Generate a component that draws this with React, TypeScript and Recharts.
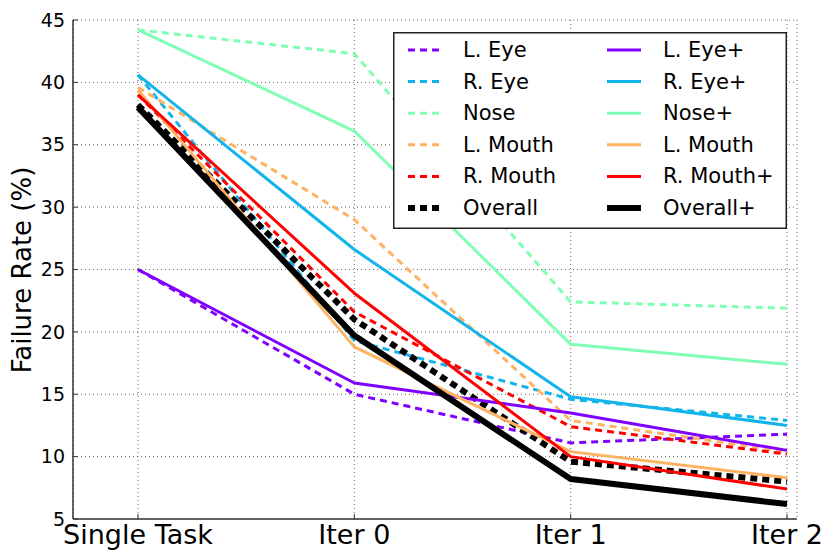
import React from "react";
import { CartesianGrid, Legend, Line, LineChart, XAxis, YAxis } from "recharts";

const categories = ["Single Task", "Iter 0", "Iter 1", "Iter 2"];
const yTicks = [5, 10, 15, 20, 25, 30, 35, 40, 45];

// baseline (dashed) series
const lEye = [25.0, 15.0, 11.1, 11.8];
const rEye = [40.6, 19.3, 14.6, 12.9];
const nose = [44.2, 42.3, 22.4, 21.9];
const lMouth = [39.6, 29.0, 12.9, 10.4];
const rMouth = [39.0, 21.6, 12.4, 10.2];
const overall = [38.2, 21.0, 9.6, 8.0];

// "+" (solid) series
const lEyePlus = [25.0, 15.9, 13.5, 10.5];
const rEyePlus = [40.6, 26.6, 14.8, 12.5];
const nosePlus = [44.2, 36.1, 19.0, 17.4];
const lMouthPlus = [39.4, 18.8, 10.4, 8.3];
const rMouthPlus = [39.0, 23.1, 10.0, 7.4];
const overallPlus = [38.0, 19.7, 8.2, 6.2];

type Series = { key: string; name: string; color: string; values: number[]; dashed: boolean; width: number };

const dashedSeries: Series[] = [
  { key: "lEye", name: "L. Eye", color: "#8000ff", values: lEye, dashed: true, width: 3 },
  { key: "rEye", name: "R. Eye", color: "#13b4ea", values: rEye, dashed: true, width: 3 },
  { key: "nose", name: "Nose", color: "#80ffb4", values: nose, dashed: true, width: 3 },
  { key: "lMouth", name: "L. Mouth", color: "#ffb362", values: lMouth, dashed: true, width: 3 },
  { key: "rMouth", name: "R. Mouth", color: "#ff0000", values: rMouth, dashed: true, width: 3 },
  { key: "overall", name: "Overall", color: "#000000", values: overall, dashed: true, width: 6 },
];

const solidSeries: Series[] = [
  { key: "lEyePlus", name: "L. Eye+", color: "#8000ff", values: lEyePlus, dashed: false, width: 3 },
  { key: "rEyePlus", name: "R. Eye+", color: "#13b4ea", values: rEyePlus, dashed: false, width: 3 },
  { key: "nosePlus", name: "Nose+", color: "#80ffb4", values: nosePlus, dashed: false, width: 3 },
  { key: "lMouthPlus", name: "L. Mouth", color: "#ffb362", values: lMouthPlus, dashed: false, width: 3 },
  { key: "rMouthPlus", name: "R. Mouth+", color: "#ff0000", values: rMouthPlus, dashed: false, width: 3 },
  { key: "overallPlus", name: "Overall+", color: "#000000", values: overallPlus, dashed: false, width: 6 },
];

const allSeries = [...dashedSeries, ...solidSeries];

const data = categories.map((c, i) => {
  const row: Record<string, string | number> = { cat: c };
  allSeries.forEach((s) => (row[s.key] = s.values[i]));
  return row;
});

const FONT = "'DejaVu Sans', sans-serif";
const DASH = "7 5";

function LegendBox() {
  const rowY = (i: number) => 18 + i * 31.6;
  return (
    <svg width={394} height={197} style={{ display: "block", fontFamily: FONT }}>
      <rect x={0.75} y={0.75} width={392.5} height={195.5} fill="#fff" stroke="#222" strokeWidth={1.5} />
      {[dashedSeries, solidSeries].map((col, c) =>
        col.map((s, i) => (
          <g key={s.key}>
            <line
              x1={c === 0 ? 15 : 214}
              x2={c === 0 ? 46 : 248}
              y1={rowY(i)}
              y2={rowY(i)}
              stroke={s.color}
              strokeWidth={s.width}
              strokeDasharray={s.dashed ? DASH : undefined}
            />
            <text x={c === 0 ? 70 : 270} y={rowY(i)} dominantBaseline="central" fontSize={21} fill="#000">
              {s.name}
            </text>
          </g>
        ))
      )}
    </svg>
  );
}

export default function App() {
  return (
    <div style={{ position: "fixed", left: 0, top: 0, width: 830, height: 560, background: "#fff" }}>
      <LineChart width={830} height={560} data={data} margin={{ top: 20, right: 33, bottom: 0, left: 0 }}>
        <CartesianGrid stroke="#666" strokeDasharray="1 3" strokeWidth={1} />
        <XAxis
          dataKey="cat"
          height={41}
          padding={{ left: 65, right: 10 }}
          interval={0}
          axisLine={{ stroke: "#333", strokeWidth: 1.5 }}
          tickLine={{ stroke: "#333" }}
          tickSize={-5}
          tickMargin={11}
          tick={{ fill: "#000", fontSize: 27, fontFamily: FONT }}
        />
        <XAxis
          xAxisId="top"
          dataKey="cat"
          orientation="top"
          height={0}
          padding={{ left: 65, right: 10 }}
          interval={0}
          axisLine={{ stroke: "#333", strokeWidth: 1.5 }}
          tickLine={{ stroke: "#333" }}
          tickSize={-5}
          tick={() => <g />}
        />
        <YAxis
          domain={[5, 45]}
          ticks={yTicks}
          width={73}
          interval={0}
          allowDataOverflow
          axisLine={{ stroke: "#333", strokeWidth: 1.5 }}
          tickLine={{ stroke: "#333" }}
          tickSize={-5}
          tickMargin={13}
          tick={{ fill: "#000", fontSize: 19, fontFamily: FONT }}
          label={{
            content: () => (
              <text x={22} y={270} transform="rotate(-90 22 270)" textAnchor="middle" dominantBaseline="central" fontSize={26} fontFamily={FONT} fill="#000">
                Failure Rate (%)
              </text>
            ),
          }}
        />
        <YAxis
          yAxisId="right"
          orientation="right"
          domain={[5, 45]}
          ticks={yTicks}
          width={0}
          interval={0}
          axisLine={{ stroke: "#333", strokeWidth: 1.5 }}
          tickLine={{ stroke: "#333" }}
          tickSize={-5}
          tick={() => <g />}
        />
        {allSeries.map((s) => (
          <Line
            key={s.key}
            type="linear"
            dataKey={s.key}
            name={s.name}
            stroke={s.color}
            strokeWidth={s.width}
            strokeDasharray={s.dashed ? DASH : undefined}
            strokeLinejoin="round"
            dot={false}
            activeDot={false}
            isAnimationActive={false}
          />
        ))}
        <Legend
          verticalAlign="middle"
          align="center"
          layout="horizontal"
          content={() => <LegendBox />}
          wrapperStyle={{ position: "absolute", left: 393, top: 32, width: 394, height: 197 }}
        />
      </LineChart>
    </div>
  );
}
